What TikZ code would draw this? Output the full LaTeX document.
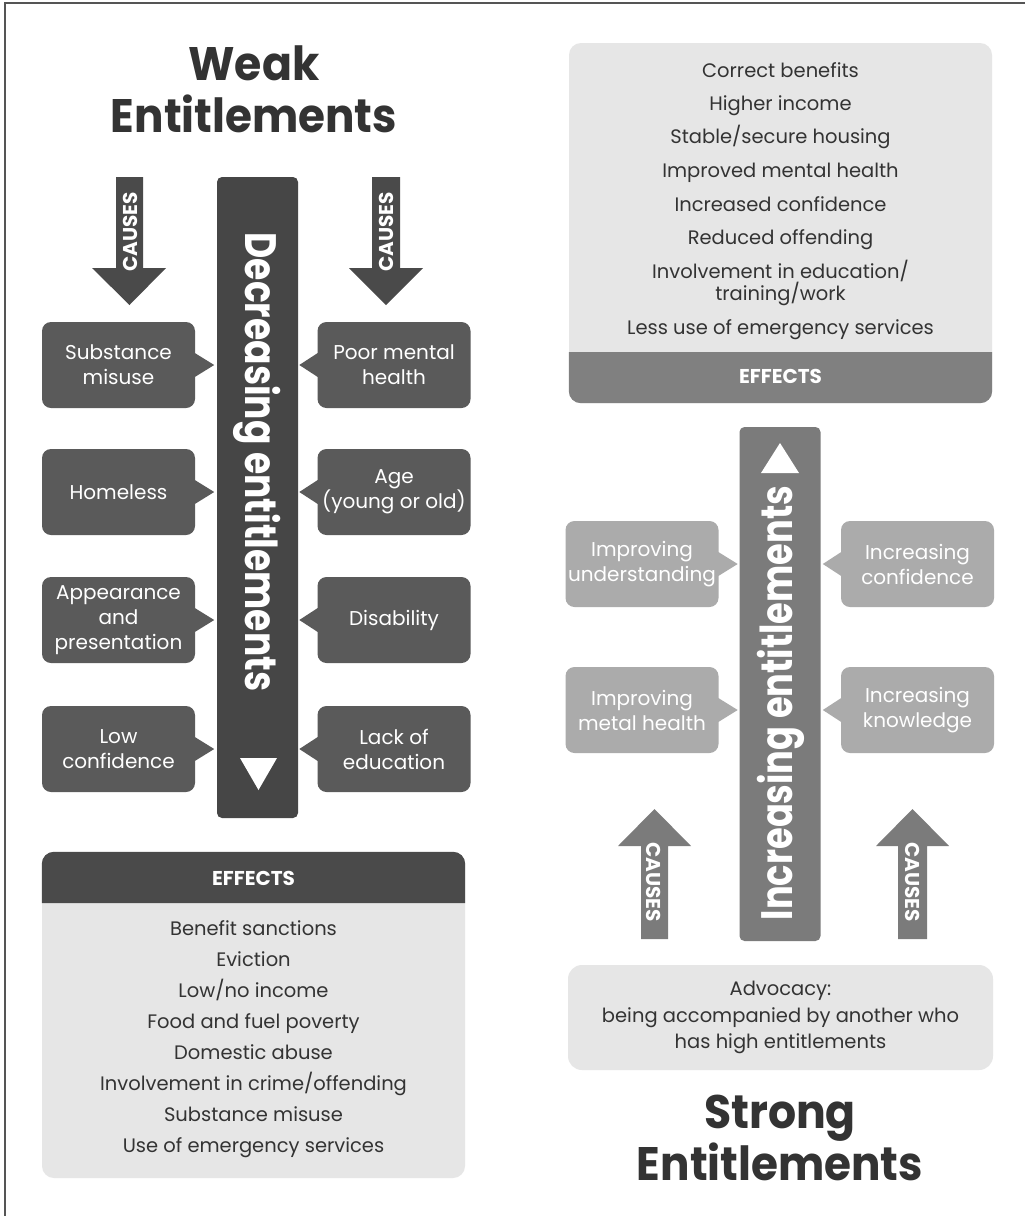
\documentclass[tikz,border=0pt]{standalone}
\usepackage{fontspec}
\setmainfont{Poppins}
\usepackage{graphicx}
\usetikzlibrary{calc}
\definecolor{cdark}{HTML}{464646}
\definecolor{cbox}{HTML}{5A5A5A}
\definecolor{carrow}{HTML}{4A4A4A}
\definecolor{cmid}{HTML}{7B7B7B}
\definecolor{clight}{HTML}{ABABAB}
\definecolor{cpale}{HTML}{E6E6E6}
\definecolor{ctext}{HTML}{333333}
\definecolor{chead}{HTML}{808080}
\definecolor{cframe}{HTML}{555555}
\begin{document}
\begin{tikzpicture}[x=1pt,y=-1pt,
 callout/.style={rounded corners=9, minimum width=153, minimum height=86, text=white, align=center, inner sep=0, font=\fontsize{20}{25}\selectfont},
 calldark/.style={callout, fill=cbox},
 calllight/.style={callout, fill=clight},
 bartext/.style={text=white, font=\bfseries\fontsize{44}{50}\selectfont, inner sep=0},
 causestext/.style={text=white, font=\bfseries\fontsize{20}{24}\selectfont, inner sep=0},
 listtext/.style={text=ctext, font=\fontsize{19.5}{24}\selectfont, inner sep=0, anchor=base},
 headtext/.style={text=white, font=\bfseries\fontsize{20}{24}\selectfont, inner sep=0, anchor=base},
 titletext/.style={text=ctext, font=\bfseries\fontsize{47}{56}\selectfont, inner sep=0, anchor=base},
 barbox/.style={rounded corners=5, minimum width=81, inner sep=0},
]
\useasboundingbox (0,0) rectangle (1025,1216);
\fill[white] (0,0) rectangle (1025,1216);
\draw[line width=2, cframe] (5,1216) -- (5,3) -- (1025,3);

% ---------- LEFT: Weak entitlements ----------
\node[titletext] (weak) at (254,80) {\scalebox{0.94}[1]{Weak}};
\node[titletext] (weakent) at (254,132) {\scalebox{0.93}[1]{Entitlements}};

% causes arrows (down)
\fill[carrow] (116,177) -- (143,177) -- (143,268) -- (166,268) -- (129.5,305) -- (92,268) -- (116,268) -- cycle;
\fill[carrow] (372,177) -- (400,177) -- (400,268) -- (423,268) -- (386,305) -- (349,268) -- (372,268) -- cycle;
\node[causestext, rotate=90] (cl1) at (130,232) {CAUSES};
\node[causestext, rotate=90] (cl2) at (386,232) {CAUSES};

% central bar
\node[barbox, fill=cdark, minimum height=641] (barL) at (257.5,497.5) {};
\node[bartext, rotate=-90] (barLtext) at (257,462) {\scalebox{0.82}[1]{Decreasing entitlements}};
\fill[white] (240,758) -- (277,758) -- (258.5,790) -- cycle;

% callouts
\node[calldark] (L1) at (118.5,365) {Substance\\misuse};
\node[calldark] (L2) at (118.5,492) {Homeless};
\node[calldark] (L3) at (118.5,620) {Appearance\\and\\presentation};
\node[calldark] (L4) at (118.5,749) {Low\\confidence};
\node[calldark] (R1) at (394,365) {Poor mental\\health};
\node[calldark] (R2) at (394,492) {Age\\(young or old)};
\node[calldark] (R3) at (394,620) {Disability};
\node[calldark] (R4) at (394,749) {Lack of\\education};
\foreach \n in {L1,L2,L3,L4}{
  \fill[cbox] ([xshift=-2pt,yshift=13pt]\n.east) -- ($(\n.east)+(19,0)$) -- ([xshift=-2pt,yshift=-13pt]\n.east) -- cycle;
}
\foreach \n in {R1,R2,R3,R4}{
  \fill[cbox] ([xshift=2pt,yshift=13pt]\n.west) -- ($(\n.west)+(-18,0)$) -- ([xshift=2pt,yshift=-13pt]\n.west) -- cycle;
}

% effects (left)
\node[fill=cpale, rounded corners=12, minimum width=423, minimum height=326, inner sep=0] (effL) at (253.5,1015) {};
\fill[carrow] (effL.north west |- 0,903) {[rounded corners=12] -- (effL.north west) -- (effL.north east)} -- (effL.north east |- 0,903) -- cycle;
\node[headtext] (effLh) at (253.5,885) {EFFECTS};
\foreach \y/\t in {935/{Benefit sanctions}, 966/{Eviction}, 997/{Low/no income}, 1028/{Food and fuel poverty}, 1059/{Domestic abuse}, 1090/{Involvement in crime/offending}, 1121/{Substance misuse}, 1152/{Use of emergency services}}{
  \node[listtext] at (253.5,\y) {\t};
}

% ---------- RIGHT: Strong entitlements ----------
\node[fill=cpale, rounded corners=12, minimum width=423, minimum height=360, inner sep=0] (effR) at (780.5,223) {};
\fill[chead] (effR.south west |- 0,352) {[rounded corners=12] -- (effR.south west) -- (effR.south east)} -- (effR.south east |- 0,352) -- cycle;
\node[headtext] (effRh) at (780.5,383) {EFFECTS};
\foreach \y/\t in {77/{Correct benefits}, 110/{Higher income}, 143/{Stable/secure housing}, 177/{Improved mental health}, 211/{Increased confidence}, 244/{Reduced offending}, 278/{Involvement in education/}, 300/{training/work}, 334/{Less use of emergency services}}{
  \node[listtext] at (780.5,\y) {\t};
}

% central bar (up)
\node[barbox, fill=cmid, minimum height=514] (barR) at (780,684) {};
\node[bartext, rotate=90] (barRtext) at (781,703) {\scalebox{0.80}[1]{Increasing entitlements}};
\fill[white] (761,473) -- (799,473) -- (780,443) -- cycle;

% callouts (light)
\node[calllight] (P1) at (642,564) {Improving\\understanding};
\node[calllight] (P2) at (642,710) {Improving\\metal health};
\node[calllight] (Q1) at (917.5,564) {Increasing\\confidence};
\node[calllight] (Q2) at (917.5,710) {Increasing\\knowledge};
\foreach \n in {P1,P2}{
  \fill[clight] ([xshift=-2pt,yshift=13pt]\n.east) -- ($(\n.east)+(19,0)$) -- ([xshift=-2pt,yshift=-13pt]\n.east) -- cycle;
}
\foreach \n in {Q1,Q2}{
  \fill[clight] ([xshift=2pt,yshift=13pt]\n.west) -- ($(\n.west)+(-18,0)$) -- ([xshift=2pt,yshift=-13pt]\n.west) -- cycle;
}

% causes arrows (up)
\fill[cmid] (641,939) -- (668,939) -- (668,846) -- (691,846) -- (654.5,809) -- (618,846) -- (641,846) -- cycle;
\fill[cmid] (898,939) -- (927,939) -- (927,846) -- (949,846) -- (912.5,809) -- (876,846) -- (898,846) -- cycle;
\node[causestext, rotate=-90] (cr1) at (654,882) {CAUSES};
\node[causestext, rotate=-90] (cr2) at (912.5,882) {CAUSES};

% advocacy
\node[fill=cpale, rounded corners=14, minimum width=425, minimum height=105, inner sep=0] (adv) at (780.5,1017.5) {};
\node[listtext] at (780.5,995) {Advocacy:};
\node[listtext] at (780.5,1022) {being accompanied by another who};
\node[listtext] at (780.5,1048) {has high entitlements};

\node[titletext] (strong) at (780,1128) {\scalebox{0.94}[1]{Strong}};
\node[titletext] (strongent) at (780,1180) {\scalebox{0.93}[1]{Entitlements}};
\end{tikzpicture}
\end{document}
